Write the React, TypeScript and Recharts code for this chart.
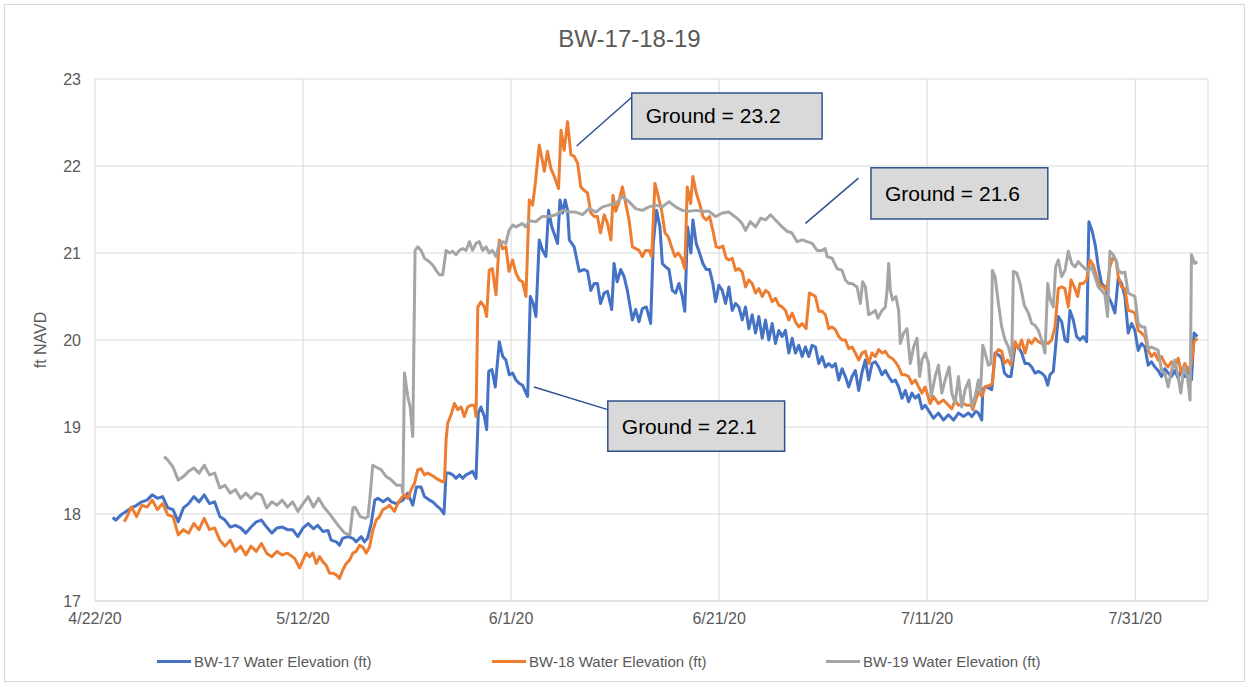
import React from "react";
import {
  LineChart,
  Line,
  XAxis,
  YAxis,
  CartesianGrid,
  ReferenceArea,
  ReferenceLine,
  Legend,
} from "recharts";

type Pt = [number, number];

// [days since 4/22/20, water elevation ft NAVD]
const bw17: Pt[] = [
  [1.7, 17.96], [2.0, 17.93], [2.5, 17.99], [3.0, 18.03], [3.5, 18.07], [4.0, 18.1], [4.5, 18.14], [5.0, 18.16],
  [5.5, 18.22], [6.0, 18.18], [6.5, 18.2], [7.0, 18.07], [7.5, 18.05], [8.0, 17.91], [8.5, 18.07], [9.0, 18.12],
  [9.5, 18.2], [10.0, 18.14], [10.5, 18.22], [11.0, 18.12], [11.5, 18.14], [12.0, 17.97], [12.5, 17.93], [13.0, 17.85],
  [13.5, 17.87], [14.0, 17.84], [14.5, 17.78], [15.0, 17.85], [15.5, 17.91], [16.0, 17.93], [16.5, 17.85], [17.0, 17.78],
  [17.5, 17.84], [18.0, 17.85], [18.5, 17.82], [19.0, 17.82], [19.5, 17.74], [20.0, 17.84], [20.5, 17.89], [21.0, 17.83],
  [21.4, 17.87], [21.9, 17.8], [22.4, 17.81], [22.7, 17.7], [23.2, 17.68], [23.5, 17.64], [23.8, 17.72], [24.3, 17.74],
  [24.8, 17.72], [25.1, 17.68], [25.6, 17.74], [25.9, 17.68], [26.2, 17.72], [26.55, 17.89], [26.9, 18.16], [27.2, 18.18],
  [27.7, 18.14], [28.15, 18.18], [28.5, 18.14], [28.95, 18.12], [29.6, 18.16], [30.07, 18.24], [30.55, 18.1], [30.9, 18.31],
  [31.35, 18.31], [31.67, 18.2], [32.15, 18.16], [32.47, 18.14], [32.8, 18.1], [33.2, 18.06], [33.55, 18.0], [33.75, 18.47],
  [34.07, 18.47], [34.39, 18.45], [34.7, 18.41], [35.03, 18.45], [35.35, 18.41], [35.67, 18.45], [36.0, 18.47], [36.3, 18.49],
  [36.63, 18.41], [36.85, 19.16], [37.1, 19.23], [37.43, 19.12], [37.65, 18.97], [37.85, 19.64], [38.16, 19.66], [38.48, 19.46],
  [38.87, 19.98], [39.2, 19.81], [39.5, 19.77], [39.83, 19.6], [40.15, 19.62], [40.47, 19.54], [40.8, 19.5], [41.1, 19.48],
  [41.59, 19.35], [41.85, 20.5], [42.13, 20.42], [42.39, 20.27], [42.71, 21.15], [43.03, 21.03], [43.35, 20.96], [43.6, 21.49],
  [43.92, 21.3], [44.24, 21.19], [44.47, 21.11], [44.7, 21.61], [44.95, 21.46], [45.2, 21.61], [45.43, 21.49], [45.6, 21.15],
  [46.07, 21.07], [46.55, 20.79], [47.03, 20.81], [47.35, 20.79], [47.67, 20.57], [48.0, 20.65], [48.3, 20.65], [48.6, 20.42],
  [48.95, 20.54], [49.27, 20.56], [49.68, 20.35], [49.9, 20.88], [50.2, 20.67], [50.54, 20.81], [50.86, 20.73], [51.18, 20.57],
  [51.66, 20.23], [51.98, 20.35], [52.3, 20.21], [52.62, 20.36], [53.0, 20.38], [53.42, 20.19], [53.67, 21.11], [53.99, 21.49],
  [54.31, 21.3], [54.54, 20.88], [54.86, 20.84], [55.18, 20.81], [55.5, 20.57], [55.82, 20.54], [56.14, 20.65], [56.46, 20.5],
  [56.7, 20.33], [56.97, 21.3], [57.29, 21.0], [57.48, 21.38], [57.8, 21.11], [58.12, 21.0], [58.44, 20.88], [58.76, 20.81],
  [59.08, 20.81], [59.4, 20.65], [59.66, 20.44], [59.98, 20.63], [60.3, 20.57], [60.62, 20.42], [60.94, 20.61], [61.26, 20.34],
  [61.58, 20.42], [61.9, 20.38], [62.22, 20.23], [62.54, 20.38], [62.86, 20.13], [63.18, 20.29], [63.5, 20.08], [63.82, 20.27],
  [64.14, 20.02], [64.46, 20.23], [64.78, 20.0], [65.1, 20.19], [65.42, 19.96], [65.74, 20.11], [66.06, 20.04], [66.38, 20.11],
  [66.7, 19.85], [67.02, 20.02], [67.34, 19.85], [67.66, 19.94], [67.98, 19.81], [68.3, 19.92], [68.62, 19.81], [68.94, 19.94],
  [69.26, 19.92], [69.58, 19.73], [69.9, 19.81], [70.22, 19.69], [70.54, 19.73], [70.86, 19.69], [71.18, 19.73], [71.5, 19.54],
  [71.82, 19.67], [72.14, 19.58], [72.46, 19.46], [72.78, 19.58], [73.1, 19.65], [73.42, 19.42], [73.74, 19.63], [74.06, 19.77],
  [74.38, 19.54], [74.7, 19.73], [75.02, 19.75], [75.34, 19.69], [75.66, 19.6], [75.98, 19.65], [76.3, 19.58], [76.62, 19.52],
  [76.94, 19.54], [77.26, 19.46], [77.58, 19.33], [77.9, 19.42], [78.22, 19.29], [78.54, 19.39], [78.86, 19.33], [79.18, 19.37],
  [79.5, 19.21], [79.81, 19.25], [80.29, 19.16], [80.61, 19.1], [81.09, 19.16], [81.57, 19.08], [82.05, 19.14], [82.53, 19.08],
  [83.01, 19.16], [83.49, 19.12], [83.97, 19.16], [84.29, 19.12], [84.67, 19.18], [84.93, 19.16], [85.25, 19.08], [85.35, 19.43],
  [85.57, 19.46], [85.89, 19.45], [86.21, 19.43], [86.53, 19.85], [86.85, 19.83], [87.17, 19.79], [87.43, 19.62], [87.75, 19.58],
  [88.06, 19.58], [88.45, 19.94], [88.77, 19.92], [89.09, 19.85], [89.41, 19.73], [89.73, 19.73], [90.05, 19.69], [90.37, 19.62],
  [90.69, 19.64], [91.01, 19.62], [91.33, 19.58], [91.59, 19.48], [91.81, 19.6], [92.13, 19.64], [92.35, 19.92], [92.61, 20.27],
  [92.93, 20.21], [93.25, 20.0], [93.5, 19.98], [93.73, 20.34], [94.05, 20.23], [94.37, 20.04], [94.69, 20.0], [95.01, 20.04],
  [95.33, 19.98], [95.55, 21.36], [95.87, 21.25], [96.19, 21.07], [96.45, 20.84], [96.77, 20.65], [97.09, 20.61], [97.41, 20.5],
  [97.73, 20.42], [98.05, 20.31], [98.37, 20.71], [98.69, 20.65], [99.01, 20.5], [99.33, 20.08], [99.65, 20.19], [99.97, 20.11],
  [100.29, 19.88], [100.61, 19.96], [100.93, 19.92], [101.25, 19.71], [101.57, 19.75], [101.89, 19.69], [102.21, 19.65], [102.53, 19.58],
  [102.85, 19.67], [103.17, 19.62], [103.49, 19.58], [103.81, 19.65], [104.13, 19.56], [104.45, 19.65], [104.77, 19.58], [105.09, 19.67],
  [105.41, 19.54], [105.66, 20.08], [105.98, 20.04],
];

const bw18: Pt[] = [
  [2.8, 17.91], [3.0, 17.95], [3.5, 18.08], [4.0, 17.97], [4.5, 18.1], [5.0, 18.08], [5.5, 18.16], [6.0, 18.05],
  [6.5, 18.12], [7.0, 17.99], [7.5, 17.97], [8.0, 17.76], [8.5, 17.82], [9.0, 17.78], [9.5, 17.89], [10.0, 17.82],
  [10.5, 17.95], [11.0, 17.82], [11.5, 17.84], [12.0, 17.7], [12.5, 17.63], [13.0, 17.7], [13.5, 17.57], [14.0, 17.63],
  [14.5, 17.53], [15.0, 17.63], [15.5, 17.57], [16.0, 17.66], [16.5, 17.55], [17.0, 17.51], [17.5, 17.57], [18.0, 17.53],
  [18.5, 17.55], [19.19, 17.49], [19.67, 17.38], [19.99, 17.47], [20.31, 17.55], [20.63, 17.51], [20.95, 17.55], [21.27, 17.43],
  [21.59, 17.51], [21.91, 17.45], [22.23, 17.41], [22.55, 17.32], [22.87, 17.32], [23.19, 17.3], [23.51, 17.26], [23.83, 17.36],
  [24.15, 17.43], [24.47, 17.47], [24.79, 17.55], [25.11, 17.57], [25.43, 17.64], [25.75, 17.62], [26.07, 17.55], [26.39, 17.62],
  [26.71, 17.81], [27.03, 17.93], [27.35, 17.97], [27.67, 18.05], [27.99, 18.07], [28.31, 18.1], [28.79, 18.03], [29.11, 18.12],
  [29.43, 18.18], [29.75, 18.22], [30.07, 18.18], [30.39, 18.28], [30.71, 18.35], [31.03, 18.51], [31.35, 18.52], [31.67, 18.45],
  [31.99, 18.47], [32.3, 18.45], [32.8, 18.41], [33.1, 18.39], [33.43, 18.37], [33.6, 18.39], [33.75, 18.85], [33.9, 19.04],
  [34.23, 19.14], [34.55, 19.27], [34.87, 19.2], [35.2, 19.23], [35.5, 19.12], [35.83, 19.23], [36.15, 19.25], [36.47, 19.25],
  [36.63, 19.12], [36.8, 20.38], [37.1, 20.44], [37.43, 20.38], [37.65, 20.27], [37.9, 20.8], [38.2, 20.82], [38.55, 20.52],
  [38.87, 21.15], [39.2, 21.05], [39.5, 21.07], [39.8, 20.79], [40.15, 20.92], [40.47, 20.77], [40.8, 20.69], [41.1, 20.67],
  [41.43, 20.5], [41.75, 21.61], [42.07, 21.55], [42.33, 21.8], [42.7, 22.24], [43.03, 22.05], [43.2, 21.94], [43.5, 22.17],
  [43.83, 21.97], [44.15, 21.88], [44.56, 21.74], [44.8, 22.41], [45.1, 22.18], [45.43, 22.51], [45.75, 22.13], [46.07, 22.11],
  [46.4, 22.03], [46.7, 21.76], [47.03, 21.72], [47.35, 21.69], [47.67, 21.46], [48.0, 21.42], [48.3, 21.42], [48.6, 21.23],
  [48.95, 21.44], [49.27, 21.34], [49.6, 21.15], [49.8, 21.66], [50.06, 21.48], [50.38, 21.59], [50.7, 21.76], [51.02, 21.57],
  [51.34, 21.38], [51.66, 21.07], [51.98, 21.05], [52.3, 21.03], [52.62, 20.96], [52.94, 21.03], [53.26, 21.03], [53.52, 20.96],
  [53.83, 21.8], [54.15, 21.65], [54.47, 21.49], [54.8, 21.23], [55.1, 21.19], [55.43, 21.07], [55.75, 20.96], [56.07, 21.0],
  [56.4, 20.94], [56.7, 20.82], [56.94, 21.76], [57.26, 21.57], [57.48, 21.88], [57.8, 21.69], [58.12, 21.57], [58.44, 21.42],
  [58.76, 21.38], [59.08, 21.42], [59.4, 21.26], [59.72, 21.07], [60.04, 21.06], [60.36, 21.08], [60.68, 20.94], [60.94, 20.92],
  [61.26, 20.94], [61.58, 20.8], [61.9, 20.82], [62.22, 20.78], [62.54, 20.61], [62.86, 20.69], [63.18, 20.65], [63.5, 20.54],
  [63.82, 20.59], [64.14, 20.5], [64.46, 20.57], [64.78, 20.54], [65.1, 20.44], [65.42, 20.48], [65.74, 20.4], [66.06, 20.38],
  [66.38, 20.34], [66.7, 20.23], [67.02, 20.31], [67.34, 20.21], [67.66, 20.15], [67.98, 20.19], [68.36, 20.13], [68.68, 20.54],
  [69.0, 20.52], [69.26, 20.5], [69.58, 20.33], [69.9, 20.33], [70.22, 20.29], [70.54, 20.13], [70.86, 20.15], [71.18, 20.12],
  [71.5, 20.04], [71.82, 20.0], [72.14, 20.0], [72.46, 19.9], [72.78, 19.92], [73.1, 19.85], [73.42, 19.77], [73.74, 19.85],
  [74.06, 19.87], [74.38, 19.73], [74.7, 19.85], [75.02, 19.81], [75.34, 19.89], [75.66, 19.85], [75.98, 19.87], [76.3, 19.81],
  [76.62, 19.79], [76.94, 19.75], [77.26, 19.69], [77.58, 19.6], [77.9, 19.6], [78.22, 19.58], [78.54, 19.5], [78.86, 19.54],
  [79.18, 19.46], [79.5, 19.39], [79.81, 19.46], [80.29, 19.27], [80.61, 19.35], [81.09, 19.27], [81.57, 19.31], [81.89, 19.27],
  [82.37, 19.21], [82.69, 19.31], [83.01, 19.25], [83.49, 19.27], [83.81, 19.25], [84.23, 19.25], [84.39, 19.2], [84.61, 19.29],
  [84.93, 19.41], [85.25, 19.35], [85.57, 19.46], [86.05, 19.48], [86.27, 19.5], [86.53, 19.83], [86.85, 19.89], [87.17, 19.87],
  [87.43, 19.73], [87.75, 19.77], [88.06, 19.71], [88.45, 19.98], [88.77, 19.9], [89.09, 20.0], [89.41, 19.85], [89.73, 20.0],
  [90.05, 19.96], [90.37, 20.02], [90.69, 19.98], [91.01, 19.96], [91.33, 19.98], [91.65, 19.96], [91.97, 20.0], [92.29, 20.15],
  [92.61, 20.59], [92.93, 20.61], [93.25, 20.59], [93.57, 20.38], [93.83, 20.69], [94.15, 20.61], [94.47, 20.5], [94.69, 20.65],
  [95.01, 20.65], [95.33, 20.69], [95.65, 20.92], [95.97, 20.86], [96.29, 20.73], [96.61, 20.63], [96.93, 20.61], [97.25, 20.57],
  [97.57, 20.84], [97.83, 20.94], [98.15, 20.92], [98.37, 20.73], [98.69, 20.61], [99.01, 20.59], [99.33, 20.34], [99.65, 20.33],
  [99.97, 20.31], [100.29, 20.11], [100.61, 20.08], [100.93, 20.04], [101.25, 19.88], [101.57, 19.81], [101.89, 19.85], [102.21, 19.77],
  [102.53, 19.81], [102.85, 19.73], [103.17, 19.69], [103.49, 19.75], [103.81, 19.69], [104.13, 19.79], [104.45, 19.62], [104.77, 19.73],
  [105.09, 19.65], [105.41, 19.73], [105.66, 19.98], [105.98, 20.02],
];

const bw19: Pt[] = [
  [6.65, 18.66], [7.0, 18.62], [7.5, 18.54], [8.0, 18.39], [8.5, 18.43], [9.0, 18.49], [9.5, 18.53], [10.0, 18.47],
  [10.5, 18.56], [11.0, 18.45], [11.5, 18.47], [12.0, 18.3], [12.5, 18.33], [13.0, 18.24], [13.5, 18.28], [14.0, 18.18],
  [14.5, 18.24], [15.0, 18.18], [15.5, 18.24], [16.0, 18.22], [16.5, 18.07], [17.0, 18.14], [17.5, 18.1], [18.0, 18.16],
  [18.5, 18.08], [19.0, 18.14], [19.5, 18.03], [20.0, 18.12], [20.5, 18.2], [21.0, 18.08], [21.5, 18.18], [22.0, 18.08],
  [22.5, 18.01], [23.0, 17.93], [23.5, 17.85], [24.0, 17.78], [24.5, 17.76], [24.8, 18.07], [25.0, 18.08], [25.5, 17.97],
  [26.0, 17.95], [26.25, 17.97], [26.5, 18.28], [26.7, 18.56], [27.0, 18.54], [27.5, 18.51], [28.0, 18.43], [28.5, 18.39],
  [29.0, 18.33], [29.5, 18.33], [29.6, 18.24], [29.75, 19.62], [30.07, 19.35], [30.3, 19.23], [30.55, 18.89], [30.77, 21.03],
  [31.03, 21.07], [31.35, 21.03], [31.67, 20.94], [32.15, 20.9], [32.47, 20.86], [32.8, 20.8], [33.1, 20.75], [33.43, 20.75],
  [33.75, 21.03], [34.07, 21.0], [34.39, 21.02], [34.7, 20.98], [35.03, 21.03], [35.35, 21.05], [35.67, 21.03], [36.0, 21.13],
  [36.3, 21.03], [36.63, 21.11], [36.95, 21.13], [37.27, 21.03], [37.6, 21.07], [37.9, 21.0], [38.2, 21.03], [38.55, 20.96],
  [38.87, 21.11], [39.2, 21.13], [39.5, 21.11], [39.8, 21.26], [40.15, 21.32], [40.47, 21.3], [40.8, 21.32], [41.1, 21.34],
  [41.4, 21.3], [41.75, 21.37], [42.39, 21.36], [43.0, 21.42], [43.67, 21.42], [44.3, 21.44], [44.95, 21.49], [45.6, 21.47],
  [46.2, 21.47], [46.87, 21.44], [47.5, 21.51], [48.15, 21.47], [48.8, 21.53], [49.4, 21.55], [50.07, 21.57], [50.7, 21.65],
  [51.34, 21.59], [51.98, 21.51], [52.62, 21.49], [53.26, 21.53], [53.9, 21.55], [54.54, 21.53], [55.18, 21.59], [55.82, 21.53],
  [56.46, 21.49], [57.1, 21.48], [57.74, 21.49], [58.38, 21.48], [59.02, 21.48], [59.66, 21.42], [60.3, 21.46], [60.94, 21.47],
  [61.5, 21.42], [61.9, 21.38], [62.2, 21.34], [62.54, 21.26], [63.0, 21.36], [63.5, 21.3], [64.0, 21.4], [64.46, 21.38],
  [64.94, 21.44], [65.26, 21.4], [65.74, 21.34], [66.06, 21.3], [66.54, 21.25], [67.0, 21.23], [67.5, 21.13], [68.0, 21.15],
  [68.46, 21.13], [68.94, 21.11], [69.42, 21.03], [69.9, 21.03], [70.2, 21.05], [70.38, 20.96], [70.86, 20.94], [71.34, 20.82],
  [71.82, 20.8], [72.14, 20.69], [72.46, 20.65], [72.78, 20.65], [73.26, 20.61], [73.58, 20.42], [73.8, 20.67], [74.06, 20.61],
  [74.38, 20.29], [74.7, 20.31], [75.02, 20.34], [75.27, 20.25], [75.66, 20.34], [75.98, 20.38], [76.14, 20.56], [76.3, 20.88],
  [76.46, 20.57], [76.68, 20.46], [77.0, 20.5], [77.26, 20.34], [77.42, 19.96], [77.74, 20.08], [78.06, 20.13], [78.38, 19.73],
  [78.7, 19.92], [79.02, 20.02], [79.28, 19.58], [79.5, 19.77], [79.82, 19.85], [80.13, 19.73], [80.39, 19.35], [80.77, 19.58],
  [81.09, 19.71], [81.41, 19.39], [81.73, 19.54], [82.11, 19.69], [82.37, 19.39], [82.69, 19.27], [83.01, 19.58], [83.33, 19.23],
  [83.65, 19.43], [84.03, 19.54], [84.29, 19.23], [84.61, 19.35], [84.93, 19.54], [85.12, 19.39], [85.35, 19.94], [85.57, 19.85],
  [85.89, 19.71], [86.14, 19.73], [86.27, 20.8], [86.53, 20.73], [86.85, 20.42], [87.17, 20.15], [87.49, 20.0], [87.81, 19.92],
  [88.13, 19.77], [88.29, 20.79], [88.61, 20.77], [88.93, 20.65], [89.34, 20.4], [89.73, 20.31], [90.05, 20.19], [90.37, 20.17],
  [90.69, 20.11], [91.01, 20.0], [91.33, 19.85], [91.59, 20.65], [91.84, 20.46], [92.13, 20.38], [92.35, 20.84], [92.61, 20.92],
  [92.93, 20.73], [93.25, 20.8], [93.57, 21.02], [93.89, 20.88], [94.21, 20.84], [94.53, 20.9], [94.85, 20.86], [95.17, 20.82],
  [95.49, 20.79], [95.81, 20.84], [96.13, 20.73], [96.45, 20.61], [96.77, 20.57], [97.09, 20.52], [97.34, 20.27], [97.57, 21.02],
  [97.89, 20.98], [98.21, 20.9], [98.37, 20.8], [98.69, 20.77], [99.01, 20.78], [99.33, 20.54], [99.65, 20.52], [99.97, 20.5],
  [100.29, 20.19], [100.61, 20.15], [100.93, 20.15], [101.25, 19.9], [101.57, 19.92], [101.89, 19.9], [102.21, 19.88], [102.53, 19.65],
  [102.85, 19.62], [103.17, 19.46], [103.49, 19.65], [103.81, 19.77], [104.13, 19.58], [104.38, 19.39], [104.7, 19.69], [105.02, 19.58],
  [105.28, 19.31], [105.41, 20.98], [105.73, 20.88], [105.98, 20.9],
];

const xTicks = [0, 20, 40, 60, 80, 100];
const xTickLabels = ["4/22/20", "5/12/20", "6/1/20", "6/21/20", "7/11/20", "7/31/20"];
const yTicks = [17, 18, 19, 20, 21, 22, 23];

const seriesNames = ["BW-17 Water Elevation (ft)", "BW-18 Water Elevation (ft)", "BW-19 Water Elevation (ft)"];
const seriesColors = ["#4472C4", "#ED7D31", "#A5A5A5"];
const seriesData = [bw17, bw18, bw19];

// ground elevation callouts, box corners and leader line ends in chart units
const calloutTexts = ["Ground = 23.2", "Ground = 21.6", "Ground = 22.1"];
const calloutBoxes = [
  [51.6, 69.9, 22.31, 22.84],
  [74.6, 91.6, 21.39, 21.98],
  [49.3, 66.3, 18.72, 19.3],
];
const calloutLeaders = [
  [46.3, 22.23, 51.6, 22.79],
  [68.3, 21.34, 73.4, 21.86],
  [42.2, 19.46, 49.3, 19.2],
];

const FONT = "'Liberation Sans', Arial, sans-serif";
const GRID = "#D9D9D9";
const TEXT = "#595959";
const legendLeft = [157, 492, 826];

const LegendContent = () => (
  <div style={{ position: "relative", height: 20, fontFamily: FONT, fontSize: 15, color: TEXT }}>
    {seriesNames.map((name, i) => (
      <div
        key={name}
        style={{ position: "absolute", left: legendLeft[i], top: 0, display: "flex", alignItems: "center", whiteSpace: "nowrap" }}
      >
        <span style={{ display: "inline-block", width: 34, height: 3, background: seriesColors[i], marginRight: 3 }} />
        {name}
      </div>
    ))}
  </div>
);

export default function App() {
  const series = seriesData.map((d) => d.map(([day, v]) => ({ day, v })));

  return (
    <div style={{ position: "relative", width: 1251, height: 687, background: "#fff", fontFamily: FONT }}>
      <style>{"body{margin:0}"}</style>
      <div
        style={{
          position: "absolute",
          left: 4,
          top: 4,
          width: 1241,
          height: 678,
          border: `1px solid ${GRID}`,
          boxSizing: "border-box",
        }}
      />
      <div
        style={{
          position: "absolute",
          left: 4,
          top: 25,
          width: 1251,
          textAlign: "center",
          fontSize: 24,
          color: TEXT,
        }}
      >
        BW-17-18-19
      </div>
      <LineChart width={1251} height={687} margin={{ top: 79, right: 43, left: 0, bottom: 56 }}>
        <CartesianGrid stroke={GRID} strokeWidth={1} />
        <XAxis
          type="number"
          dataKey="day"
          domain={[0, 107]}
          ticks={xTicks}
          allowDataOverflow
          height={30}
          tickLine={false}
          axisLine={{ stroke: GRID }}
          tickMargin={6}
          tick={{ fill: TEXT, fontSize: 16, fontFamily: FONT }}
          tickFormatter={(v: number) => xTickLabels[xTicks.indexOf(v)] ?? ""}
        />
        <YAxis
          type="number"
          domain={[17, 23]}
          ticks={yTicks}
          width={95}
          tickLine={false}
          axisLine={false}
          tickMargin={8}
          tick={{ fill: TEXT, fontSize: 16, fontFamily: FONT }}
          label={{
            value: "ft NAVD",
            angle: -90,
            position: "insideLeft",
            offset: 40,
            fill: TEXT,
            fontSize: 16,
            fontFamily: FONT,
            style: { textAnchor: "middle" },
          }}
        />
        {series.map((data, i) => (
          <Line
            key={seriesNames[i]}
            data={data}
            dataKey="v"
            name={seriesNames[i]}
            type="linear"
            stroke={seriesColors[i]}
            strokeWidth={3}
            strokeLinejoin="round"
            dot={false}
            activeDot={false}
            isAnimationActive={false}
          />
        ))}
        {calloutLeaders.map(([x1, y1, x2, y2], i) => (
          <ReferenceLine
            key={`lead-${i}`}
            segment={[{ x: x1, y: y1 }, { x: x2, y: y2 }]}
            stroke="#2F528F"
            strokeWidth={1.5}
          />
        ))}
        {calloutBoxes.map(([x1, x2, y1, y2], i) => (
          <ReferenceArea
            key={`box-${i}`}
            x1={x1}
            x2={x2}
            y1={y1}
            y2={y2}
            fill="#D9D9D9"
            fillOpacity={1}
            stroke="#2F528F"
            strokeWidth={1.5}
            label={{
              value: calloutTexts[i],
              position: "insideLeft",
              offset: 14,
              fill: "#000",
              fontSize: 21,
              fontFamily: FONT,
            }}
          />
        ))}
        <Legend
          layout="horizontal"
          verticalAlign="middle"
          align="center"
          wrapperStyle={{ top: 653, left: 0, width: 1251 }}
          content={<LegendContent />}
        />
      </LineChart>
    </div>
  );
}
